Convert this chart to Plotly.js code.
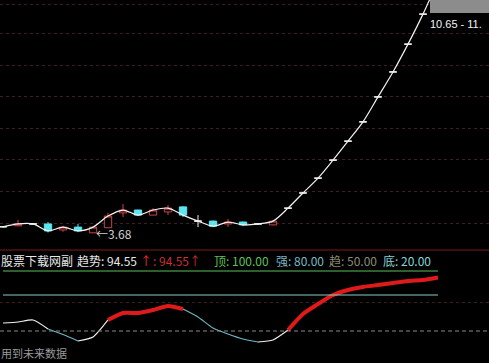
<!DOCTYPE html>
<html>
<head>
<meta charset="utf-8">
<script src="https://cdn.plot.ly/plotly-3.0.1.min.js"></script>
<style>html,body{margin:0;padding:0;background:#000;}#chart{width:489px;height:363px;}</style>
</head>
<body>
<div id="chart"></div>
<script>
// ---- data ----
const day   = [0,1,2,3,4,5,6,7,8,9,10,11,12,13,14,15,16,17,18,19,20,21,22,23,24,25,26,27,28,29];
const open  = [3.88,3.91,3.97,3.97,3.78,3.87,3.69,3.85,4.32,4.41,4.25,4.35,4.51,4.06,4.06,3.97,4.03,3.97,3.94,4.47,4.95,5.42,5.99,6.59,7.20,7.99,8.78,9.66,10.61,11.67];
const high  = [3.90,4.10,3.98,4.03,3.91,3.97,3.88,4.32,4.60,4.42,4.47,4.57,4.53,4.25,4.08,4.13,4.05,3.99,4.07,4.47,4.95,5.42,5.99,6.59,7.20,7.99,8.78,9.66,10.61,11.67];
const low   = [3.86,3.90,3.96,3.70,3.72,3.71,3.68,3.85,4.19,4.22,4.25,4.25,4.19,3.87,3.87,3.87,3.90,3.96,3.93,4.47,4.95,5.42,5.99,6.59,7.20,7.99,8.78,9.66,10.61,11.67];
const close = [3.88,3.97,3.97,3.75,3.87,3.75,3.87,4.22,4.41,4.25,4.41,4.47,4.25,4.06,3.90,4.03,3.94,3.97,4.06,4.47,4.95,5.42,5.99,6.59,7.20,7.99,8.78,9.66,10.61,11.67];
const priceGrid = [4,5,6,7,8,9,10,10.93];
const lowLabel = 3.68;
const rangeLabel = "10.65 - 11.";

const trend = [56.7,57.5,59.2,51.7,47.1,41.7,45.0,59.2,65.0,65.0,67.5,70.8,68.3,61.7,52.5,47.5,43.3,40.8,42.5,50.8,64.2,72.5,80.0,84.2,86.7,88.3,90.0,91.7,92.5,94.55];
// state of each segment between consecutive days: w = flat, c = falling, r = strong rise
const segState = ["w","w","w","c","c","w","w","r","r","r","r","r","c","c","c","c","c","w","w","r","r","r","r","r","r","r","r","r","r"];
const levelTop = 100, levelStrong = 80, levelTrend = 50, levelBottom = 20;
const indGrid = [74];
const headerName = "股票下载网副";
const footerText = "用到未来数据";

// ---- geometry ----
const W = 489, H = 363;
const split = 113 / H;
const px = v => v / W;
const py = v => 1 - v / H;

const C = {red:'#c84444', cyan:'#5ce6f0', white:'#f2f2f2', grid:'#3e1e1e',
  indRed:'#e01a1a', indCyan:'#6fb8c2', indWhite:'#f0f0f0', green:'#5cc05c', teal:'#8ccaca'};

function pick(f){ const o={x:[],open:[],high:[],low:[],close:[]};
  day.forEach((d,i)=>{ if(f(i)){o.x.push(d);o.open.push(open[i]);o.high.push(high[i]);o.low.push(low[i]);o.close.push(close[i]);} }); return o; }
const up = pick(i=>close[i]>open[i]);
const dn = pick(i=>close[i]<open[i]);
const dj = pick(i=>close[i]===open[i]);

function candle(d, col, fill){
  return Object.assign({type:'candlestick', xaxis:'x', yaxis:'y', whiskerwidth:0, hoverinfo:'skip',
    increasing:{line:{color:col,width:1}, fillcolor:fill},
    decreasing:{line:{color:col,width:1}, fillcolor:fill}}, d);
}
const traces = [
  candle(up, C.red, '#000000'),
  candle(dn, C.cyan, C.cyan),
  candle(dj, C.white, '#000000'),
  {type:'scatter', mode:'lines', x:day, y:close, xaxis:'x', yaxis:'y', hoverinfo:'skip',
   line:{color:C.white, width:1.2, shape:'spline', smoothing:0.8}}
];

const stColor = {w:C.indWhite, c:C.indCyan, r:C.indRed};
const stWidth = {w:1.1, c:1.1, r:4};
let s = 0;
while (s < segState.length){
  let e = s;
  while (e+1 < segState.length && segState[e+1] === segState[s]) e++;
  const xs = day.slice(s, e+2), ys = trend.slice(s, e+2);
  traces.push({type:'scatter', mode:'lines', x:xs, y:ys, xaxis:'x', yaxis:'y2', hoverinfo:'skip',
    line:{color:stColor[segState[s]], width:stWidth[segState[s]], shape:'spline', smoothing:0.6}});
  s = e+1;
}
traces.push({type:'scatter', mode:'lines', x:[day[0], day[day.length-1]], y:[levelTop, levelTop], xaxis:'x', yaxis:'y2', hoverinfo:'skip', line:{color:C.green, width:1.2}});
traces.push({type:'scatter', mode:'lines', x:[day[0], day[day.length-1]], y:[levelStrong, levelStrong], xaxis:'x', yaxis:'y2', hoverinfo:'skip', line:{color:C.teal, width:1.2}});

const last = trend[trend.length-1].toFixed(2);
const fnt = (c, s) => ({family:'"Noto Sans CJK SC", "Noto Sans", sans-serif', size:s||12, color:c});
const hy = py(260);
function hdr(x, text, col){ return {xref:'paper', yref:'paper', x:px(x), y:hy, xanchor:'left', yanchor:'middle', showarrow:false, text:text, font:fnt(col), borderpad:0}; }

const layout = {
  width:W, height:H, margin:{l:0,r:0,t:0,b:0}, paper_bgcolor:'#000', plot_bgcolor:'#000', showlegend:false,
  xaxis:{range:[-0.2, 32.4], domain:[0,1], showgrid:false, zeroline:false, showticklabels:false, showline:false, ticks:'', rangeslider:{visible:false}, fixedrange:true},
  yaxis:{domain:[split,1], range:[3.1456, 11.057], tickvals:priceGrid, showgrid:true, gridcolor:C.grid, griddash:'dot', gridwidth:1, zeroline:false, showticklabels:false, showline:false, ticks:''},
  yaxis2:{domain:[0,split], range:[23.33, 117.5], tickvals:indGrid, showgrid:true, gridcolor:C.grid, griddash:'dot', gridwidth:1, zeroline:false, showticklabels:false, showline:false, ticks:''},
  shapes:[
    {type:'line', xref:'paper', yref:'paper', x0:0, x1:1, y0:split, y1:split, line:{color:'#7a1c1c', width:1.2}},
    {type:'line', xref:'paper', yref:'y2', x0:0, x1:1, y0:levelTrend, y1:levelTrend, line:{color:'#8a8a8a', width:1, dash:'4px,3px'}},
    {type:'rect', xref:'paper', yref:'paper', x0:px(430), x1:1.02, y0:py(13), y1:1.02, fillcolor:'#8c8c8c', line:{width:0}}
  ],
  annotations:[
    {xref:'x', yref:'y', x:day[6], y:lowLabel, xanchor:'left', yanchor:'middle', xshift:1, showarrow:false, text:'←'+lowLabel.toFixed(2), font:fnt('#cfcfcf',12)},
    {xref:'paper', yref:'paper', x:px(429), y:py(24), xanchor:'left', yanchor:'middle', showarrow:false, text:rangeLabel, font:{family:'"Liberation Sans", Arial, sans-serif', size:11, color:'#f4f4f4'}, borderpad:0},
    hdr(0, headerName, '#e8e8e8'),
    hdr(76, '趋势: '+last, '#e8e8e8'),
    hdr(139, '↑', '#e83030'),
    hdr(152, ': '+last+'↑', '#c83030'),
    hdr(213, '顶: '+levelTop.toFixed(2), '#5cc05c'),
    hdr(275, '强: '+levelStrong.toFixed(2), '#7ab8c2'),
    hdr(328, '趋: '+levelTrend.toFixed(2), '#8c8a70'),
    hdr(382, '底: '+levelBottom.toFixed(2), '#86d2d2'),
    {xref:'paper', yref:'paper', x:px(0), y:py(362), xanchor:'left', yanchor:'bottom', showarrow:false, text:footerText, font:fnt('#9a9a9a',11), borderpad:0}
  ]
};
Plotly.newPlot('chart', traces, layout, {staticPlot:true, displayModeBar:false});
</script>
</body>
</html>
